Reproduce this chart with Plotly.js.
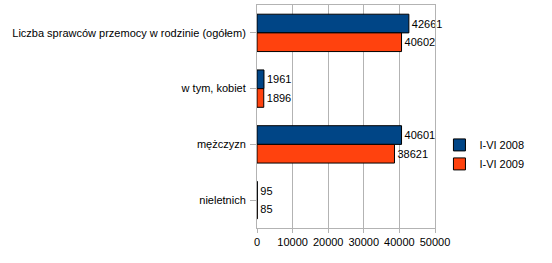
<!DOCTYPE html>
<html>
<head>
<meta charset="utf-8">
<script src="https://cdn.plot.ly/plotly-3.0.1.min.js"></script>
<style>html,body{margin:0;padding:0;background:#fff;}#chart{width:552px;height:263px;}</style>
</head>
<body>
<div id="chart"></div>
<script>
var categories = ["Liczba sprawców przemocy w rodzinie (ogółem)", "w tym, kobiet", "mężczyzn", "nieletnich"];
var series2008 = [42661, 1961, 40601, 95];
var series2009 = [40602, 1896, 38621, 85];
var seriesNames = ["I-VI 2008", "I-VI 2009"];
var xTicks = [0, 10000, 20000, 30000, 40000, 50000];

function mk(vals, name, color) {
  return {
    type: 'bar', orientation: 'h', y: categories, x: vals, name: name,
    marker: {color: color, line: {color: '#000', width: 1}},
    text: vals.map(String), textposition: 'outside', cliponaxis: false,
    textfont: {family: 'Liberation Sans, Arial, sans-serif', size: 11, color: '#000'}
  };
}
var data = [mk(series2008, seriesNames[0], '#004586'), mk(series2009, seriesNames[1], '#ff420e')];
var layout = {
  width: 552, height: 263,
  margin: {l: 257, r: 117, t: 5, b: 35},
  paper_bgcolor: '#fff', plot_bgcolor: '#fff',
  font: {family: 'Liberation Sans, Arial, sans-serif', size: 11, color: '#000'},
  barmode: 'group', bargap: 0.33, bargroupgap: 0,
  showlegend: true,
  legend: {x: 1.025, xanchor: 'left', y: 0.33, yanchor: 'middle', traceorder: 'normal',
           font: {size: 11}, itemwidth: 30, tracegroupgap: 0},
  xaxis: {range: [0, 50000], tickvals: xTicks, ticktext: xTicks.map(String),
          showgrid: true, gridcolor: '#b3b3b3', gridwidth: 1, zeroline: false,
          showline: true, linecolor: '#b3b3b3', linewidth: 1, mirror: true,
          ticks: 'outside', ticklen: 4, tickcolor: '#b3b3b3', fixedrange: true},
  yaxis: {autorange: 'reversed', showgrid: false, zeroline: false,
          showline: true, linecolor: '#b3b3b3', linewidth: 1, mirror: true,
          ticks: 'outside', ticklen: 6, tickcolor: '#b3b3b3', ticklabelstandoff: 2}
};
Plotly.newPlot('chart', data, layout, {displayModeBar: false, staticPlot: true});
</script>
</body>
</html>
